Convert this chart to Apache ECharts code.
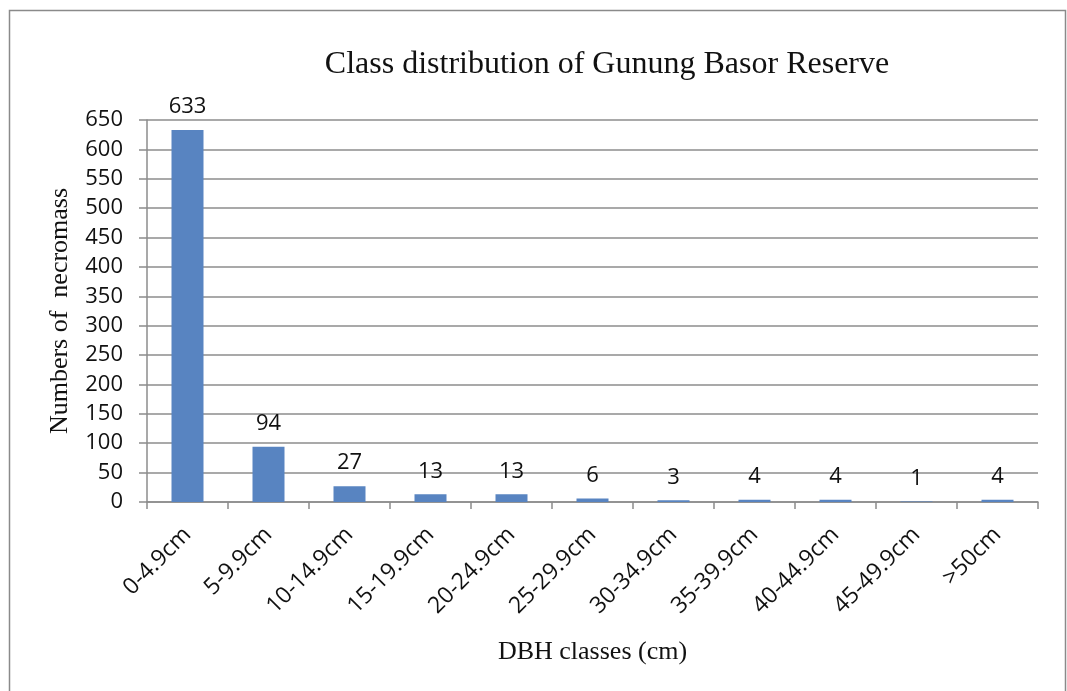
<!DOCTYPE html>
<html>
<head>
<meta charset="utf-8">
<script src="https://cdn.jsdelivr.net/npm/echarts@6/dist/echarts.min.js"></script>
<style>
  html, body { margin: 0; padding: 0; background: #fff; }
  #chart { width: 1067px; height: 691px; }
</style>
</head>
<body>
<div id="chart"></div>
<script>
// DBH classes and counts
const dbhClasses = ['0-4.9cm', '5-9.9cm', '10-14.9cm', '15-19.9cm', '20-24.9cm', '25-29.9cm',
  '30-34.9cm', '35-39.9cm', '40-44.9cm', '45-49.9cm', '>50cm'];
const necromassCounts = [633, 94, 27, 13, 13, 6, 3, 4, 4, 1, 4];

const chart = echarts.init(document.getElementById('chart'));

const option = {
  animation: false,
  backgroundColor: '#fff',
  title: {
    text: 'Class distribution of Gunung Basor Reserve',
    left: 602,
    top: 44,
    textAlign: 'center',
    textStyle: {
      fontFamily: 'Liberation Serif',
      fontWeight: 'normal',
      fontSize: 32,
      color: '#111'
    }
  },
  graphic: [
    {
      type: 'rect',
      shape: { x: 9.5, y: 10.5, width: 1056, height: 700 },
      style: { fill: 'none', stroke: '#8a8a8a', lineWidth: 1.5 },
      silent: true
    }
  ],
  grid: {
    left: 147,
    right: 29,
    top: 120,
    bottom: 189
  },
  xAxis: {
    type: 'category',
    data: dbhClasses,
    name: 'DBH classes (cm)',
    nameLocation: 'middle',
    nameGap: 137,
    nameTextStyle: {
      fontFamily: 'Liberation Serif',
      fontSize: 26,
      color: '#111'
    },
    axisLine: { lineStyle: { color: '#8c8c8c', width: 1.5 } },
    axisTick: { show: true, alignWithLabel: false, length: 7, lineStyle: { color: '#8c8c8c', width: 1.5 } },
    axisLabel: {
      rotate: 45,
      margin: 29,
      fontFamily: 'Open Sans',
      fontSize: 23,
      color: '#111'
    }
  },
  yAxis: {
    type: 'value',
    min: 0,
    max: 650,
    interval: 50,
    name: 'Numbers of  necromass',
    nameLocation: 'middle',
    nameGap: 74,
    nameRotate: 90,
    nameTextStyle: {
      fontFamily: 'Liberation Serif',
      fontSize: 26,
      color: '#111'
    },
    axisLine: { show: true, lineStyle: { color: '#8c8c8c', width: 1.5 } },
    axisTick: { show: true, length: 8, lineStyle: { color: '#8c8c8c', width: 1.5 } },
    axisLabel: {
      margin: 24,
      fontFamily: 'Open Sans',
      fontSize: 22,
      color: '#111'
    },
    splitLine: { lineStyle: { color: '#8c8c8c', width: 1.5 } }
  },
  series: [
    {
      type: 'bar',
      data: necromassCounts,
      barWidth: 32,
      itemStyle: { color: '#5884c1' },
      label: {
        show: true,
        position: 'top',
        distance: 12,
        fontFamily: 'Open Sans',
        fontSize: 22,
        color: '#111'
      }
    }
  ]
};

chart.setOption(option);
</script>
</body>
</html>
